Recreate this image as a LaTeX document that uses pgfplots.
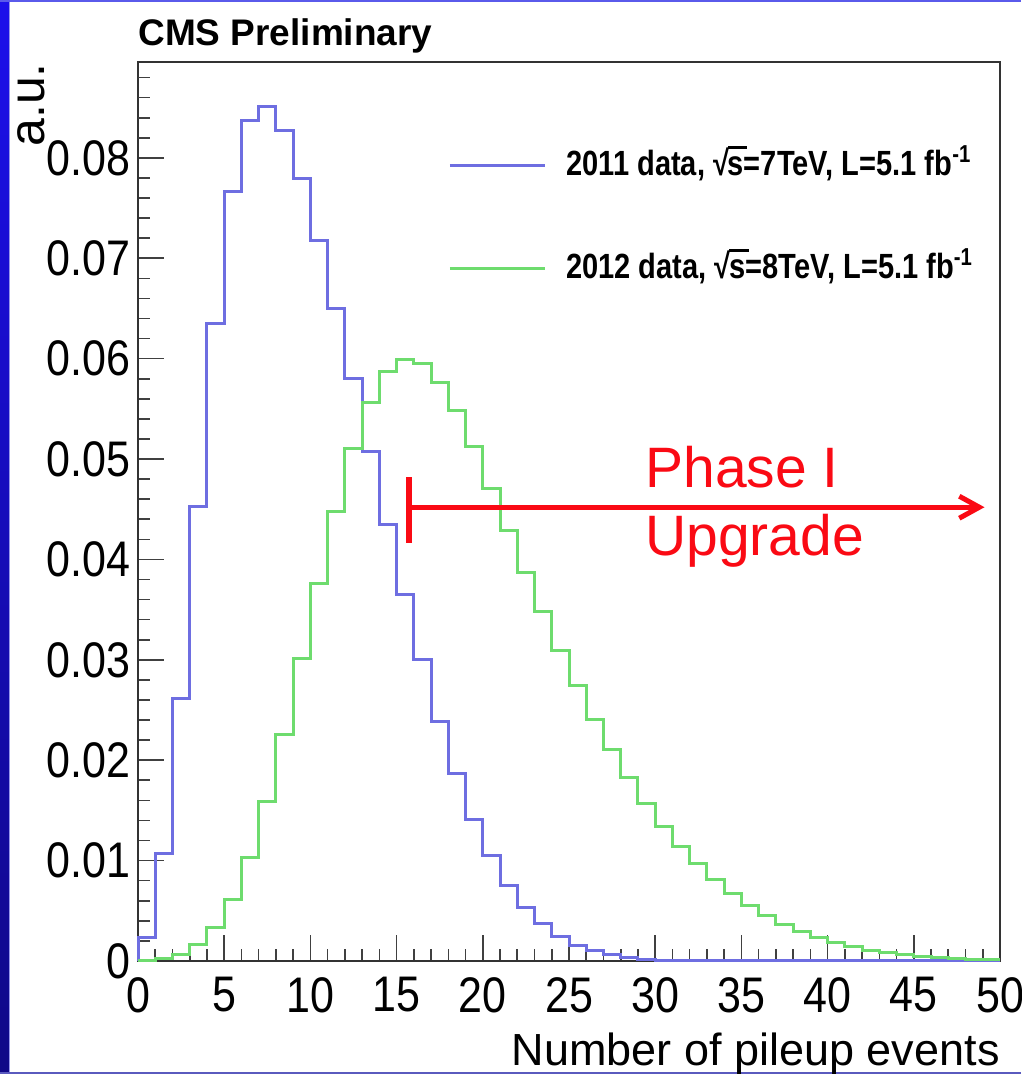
\documentclass[border=0pt]{standalone}
\usepackage{pgfplots}
\pgfplotsset{compat=1.18}
\usepackage{fontspec}
\setmainfont{Liberation Sans}
\newfontfamily\tickfont[FakeStretch=0.86]{Liberation Sans}
\newfontfamily\legfont[FakeStretch=0.83]{Liberation Sans}
\usetikzlibrary{arrows.meta}
\definecolor{histblue}{RGB}{110,110,225}
\definecolor{histgreen}{RGB}{110,220,110}
\definecolor{phred}{RGB}{250,10,20}
\definecolor{bordtop}{RGB}{28,16,235}
\definecolor{bordbot}{RGB}{16,8,135}
\definecolor{bordedge}{RGB}{150,150,235}
\definecolor{bordline}{RGB}{90,90,235}
\definecolor{bordlow}{RGB}{90,90,190}
\newcommand\rs{\mbox{√\kern-0.04em\rlap{\rule[0.76em]{0.55em}{0.07em}}s}}
\begin{document}
\begin{tikzpicture}
\useasboundingbox (0,0) rectangle (510.5pt,537pt);
\fill[white] (0,0) rectangle (510.5pt,537pt);
\shade[top color=bordtop, bottom color=bordbot] (0,0) rectangle (4.5pt,537pt);
\fill[bordedge] (4.5pt,0) rectangle (5pt,537pt);
\fill[bordline] (0,536pt) rectangle (510.5pt,537pt);
\fill[bordlow] (0,0) rectangle (510.5pt,1.2pt);
\begin{axis}[
  at={(69pt,56.5pt)}, anchor=south west,
  scale only axis, width=431pt, height=449.5pt,
  xmin=0, xmax=50, ymin=0, ymax=0.08955,
  enlargelimits=false, clip=false,
  scaled y ticks=false, scaled x ticks=false,
  axis line style={black!80, line width=1pt},
  tick align=inside, xtick pos=left, ytick pos=left,
  major tick length=13pt, minor tick length=6pt,
  tick style={black!75, line width=0.8pt},
  xtick={0,5,...,50},
  xticklabels={0,5,10,15,20,25,30,35,40,45,50},
  ytick={0,0.01,0.02,0.03,0.04,0.05,0.06,0.07,0.08},
  yticklabels={0,0.01,0.02,0.03,0.04,0.05,0.06,0.07,0.08},
  extra y ticks={0.082,0.084,0.086,0.088},
  extra y tick labels={},
  extra y tick style={major tick length=6pt},
  minor x tick num=4, minor y tick num=4,
  ticklabel style={font=\tickfont\fontsize{25pt}{30pt}\selectfont},
  xticklabel style={inner sep=0pt, yshift=-8pt},
  yticklabel style={inner sep=0pt, xshift=-3.5pt},
  title={\bfseries CMS Preliminary},
  title style={at={(axis description cs:0,1)}, anchor=base west, inner sep=0pt, yshift=2pt, font=\fontsize{18.5pt}{22pt}\selectfont},
  xlabel={Number of pileup events},
  xlabel style={at={(axis description cs:1,0)}, anchor=base east, inner sep=0pt, yshift=-52pt, font=\fontsize{22.5pt}{27pt}\selectfont},
  ylabel={a.u.},
  ylabel style={at={(axis description cs:-0.108,0.999)}, anchor=base east, inner sep=0pt, font=\fontsize{25pt}{30pt}\selectfont},
  legend cell align=left,
  legend image code/.code={\draw[#1] (0pt,-1pt) -- (47.5pt,-1pt);},
  legend style={at={(axis cs:18,0.08127)}, anchor=north west, draw=none, fill=none,
    inner sep=0pt, outer sep=0pt, row sep=33.5pt, column sep=10pt,
    font=\legfont\bfseries\fontsize{17.5pt}{21pt}\selectfont,
    nodes={inner sep=0pt, text height=15pt, text depth=3pt}},
]
\addplot[const plot, histblue, line width=1.5pt] coordinates {
(0,0) (0,0.0023) (1,0.0107) (2,0.0261) (3,0.0453) (4,0.0635) (5,0.0766) (6,0.0837) (7,0.0851) (8,0.0827) (9,0.0779)
(10,0.0718) (11,0.0650) (12,0.0580) (13,0.0508) (14,0.0435) (15,0.0365) (16,0.0300) (17,0.0239) (18,0.0187) (19,0.0141)
(20,0.0105) (21,0.0075) (22,0.0053) (23,0.0037) (24,0.0024) (25,0.0015) (26,0.0010) (27,0.0006) (28,0.0003) (29,0.0001)
(30,0.00005) (31,0.00003) (32,0.0) (33,0.0) (34,0.0) (35,0.0) (36,0.0) (37,0.0) (38,0.0) (39,0.0)
(40,0.0) (41,0.0) (42,0.0) (43,0.0) (44,0.0) (45,0.0) (46,0.0) (47,0.0) (48,0.0) (49,0.0) (50,0.0)
};
\addlegendentry{2011 data, \rs=7TeV, L=5.1 fb\textsuperscript{-1}}
\addplot[const plot, histgreen, line width=1.5pt] coordinates {
(0,0.00005) (1,0.0002) (2,0.0006) (3,0.0016) (4,0.0033) (5,0.0061) (6,0.0103) (7,0.0159) (8,0.0226) (9,0.0301)
(10,0.0376) (11,0.0448) (12,0.0510) (13,0.0556) (14,0.0587) (15,0.0599) (16,0.0595) (17,0.0576) (18,0.0548) (19,0.0512)
(20,0.0471) (21,0.0429) (22,0.0387) (23,0.0348) (24,0.0309) (25,0.0274) (26,0.0241) (27,0.0211) (28,0.0183) (29,0.0157)
(30,0.0134) (31,0.0114) (32,0.0097) (33,0.0081) (34,0.0067) (35,0.0055) (36,0.0045) (37,0.0036) (38,0.0029) (39,0.0023)
(40,0.0018) (41,0.0014) (42,0.0010) (43,0.0008) (44,0.0006) (45,0.0004) (46,0.0003) (47,0.0002) (48,0.0001) (49,0.0001) (50,0.0001)
};
\addlegendentry{2012 data, \rs=8TeV, L=5.1 fb\textsuperscript{-1}}
\draw[phred, line width=3pt] (axis cs:15.72,0.0482) -- (axis cs:15.72,0.0416);
\draw[phred, line width=2.5pt, -{Straight Barb[length=10pt,width=11pt]}] (axis cs:15.72,0.0452) -- (axis cs:49.1,0.0452);
\node[anchor=base west, inner sep=0pt, text=phred, font=\fontsize{28.5pt}{34pt}\selectfont] at (axis cs:29.41,0.04721) {Phase I};
\node[anchor=base west, inner sep=0pt, text=phred, font=\fontsize{28.5pt}{34pt}\selectfont] at (axis cs:29.41,0.04044) {Upgrade};
\end{axis}
\end{tikzpicture}
\end{document}
